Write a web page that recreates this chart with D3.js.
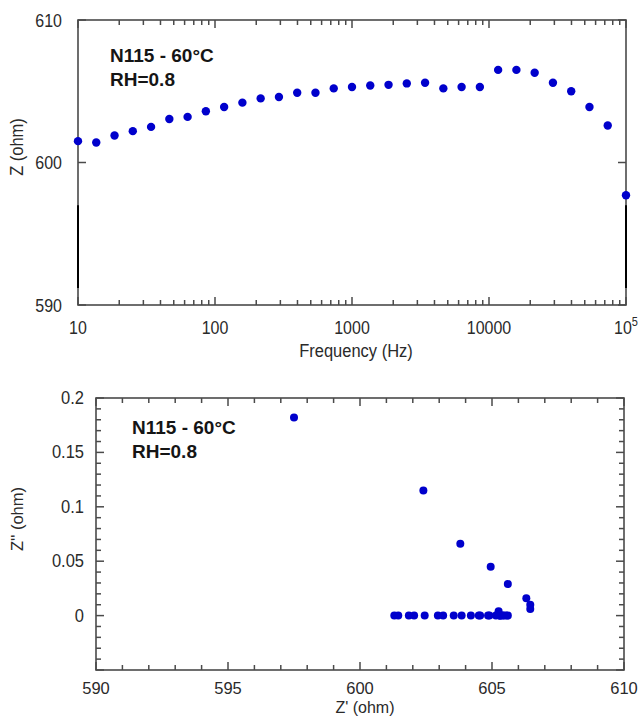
<!DOCTYPE html>
<html><head><meta charset="utf-8">
<script src="https://cdn.jsdelivr.net/npm/d3@7"></script>
<style>body{margin:0;background:#fff}svg{display:block}</style>
</head><body>
<script>
// ---- data ----
const freqHz = [10, 13.59, 18.48, 25.12, 34.15, 46.42, 63.10, 85.77, 116.6, 158.5, 215.4, 292.9, 398.1, 541.2, 735.6, 1000, 1359, 1848, 2512, 3415, 4642, 6310, 8577, 11659, 15849, 21544, 29286, 39811, 54117, 73564, 100000];
const zMag = [601.5, 601.4, 601.9, 602.2, 602.5, 603.05, 603.2, 603.6, 603.9, 604.2, 604.5, 604.6, 604.9, 604.9, 605.2, 605.3, 605.4, 605.45, 605.55, 605.6, 605.2, 605.3, 605.3, 606.5, 606.5, 606.3, 605.6, 605.0, 603.9, 602.6, 597.7];
const zReal = [601.45, 601.3, 601.85, 602.05, 602.45, 602.95, 603.15, 603.55, 603.85, 604.2, 604.5, 604.55, 604.85, 604.9, 605.15, 605.3, 605.4, 605.45, 605.55, 605.6, 605.25, 605.3, 605.3, 606.45, 606.45, 606.3, 605.6, 604.95, 603.8, 602.4, 597.5];
const zImag = [0, 0, 0, 0, 0, 0, 0, 0, 0, 0, 0, 0, 0, 0, 0, 0, 0, 0, 0, 0, 0.004, 0, 0, 0.006, 0.010, 0.016, 0.029, 0.045, 0.066, 0.115, 0.182];
const topYTicks = [590, 600, 610];
const topXLabels = ["10", "100", "1000", "10000", "10^5"];
const botXTicks = [590, 595, 600, 605, 610];
const botYTicks = [0, 0.05, 0.1, 0.15, 0.2];
const annot = ["N115 - 60°C", "RH=0.8"];

const W = 640, H = 716;
const svg = d3.select("body").append("svg").attr("width", W).attr("height", H);
const AX = "#4a4a4a", TXT = "#2a2a2a", DOT = "#0000cc";
const FONT = "Liberation Sans, Arial, sans-serif";

function label(g, x, y, txt, anchor, size, sy) {
  return g.append("text").attr("transform", `translate(${x},${y}) scale(1,${sy})`)
    .attr("text-anchor", anchor).attr("font-family", FONT).attr("font-size", size)
    .attr("fill", TXT).text(txt);
}

// ================= TOP CHART =================
const tp = {l: 78, r: 626, t: 20, b: 305};
const xT = d3.scaleLog().domain([10, 1e5]).range([tp.l, tp.r]);
const yT = d3.scaleLinear().domain([590, 610]).range([tp.b, tp.t]);
const gT = svg.append("g");

const logTicks = xT.ticks();
logTicks.forEach(v => {
  const major = Math.abs(Math.log10(v) - Math.round(Math.log10(v))) < 1e-9;
  const len = major ? 8 : 5;
  const x = xT(v);
  gT.append("line").attr("x1", x).attr("x2", x).attr("y1", tp.b).attr("y2", tp.b - len).attr("stroke", AX).attr("stroke-width", 1.5);
  gT.append("line").attr("x1", x).attr("x2", x).attr("y1", tp.t).attr("y2", tp.t + len).attr("stroke", AX).attr("stroke-width", 1.5);
});
topYTicks.forEach(v => {
  const y = yT(v);
  gT.append("line").attr("x1", tp.l).attr("x2", tp.l + 8).attr("y1", y).attr("y2", y).attr("stroke", AX).attr("stroke-width", 1.5);
  gT.append("line").attr("x1", tp.r).attr("x2", tp.r - 8).attr("y1", y).attr("y2", y).attr("stroke", AX).attr("stroke-width", 1.5);
  label(gT, tp.l - 16, y + 6.5, String(v), "end", 16, 1.18);
});
gT.append("rect").attr("x", tp.l).attr("y", tp.t).attr("width", tp.r - tp.l).attr("height", tp.b - tp.t)
  .attr("fill", "none").attr("stroke", AX).attr("stroke-width", 1.6);
[tp.l, tp.r].forEach(x => {
  gT.append("line").attr("x1", x).attr("x2", x).attr("y1", yT(597)).attr("y2", yT(591.2)).attr("stroke", "#000").attr("stroke-width", 2);
});

const decades = [10, 100, 1000, 10000, 100000];
decades.forEach((v, i) => {
  const t = topXLabels[i];
  if (t.includes("^")) {
    const [b, e] = t.split("^");
    const el = label(gT, xT(v), 334, "", "middle", 16, 1.18);
    el.append("tspan").text(b);
    el.append("tspan").attr("dy", -7).attr("font-size", 11).text(e);
  } else {
    label(gT, xT(v), 334, t, "middle", 16, 1.18);
  }
});
label(gT, (tp.l + tp.r) / 2 + 4, 357, "Frequency (Hz)", "middle", 16.5, 1.12);
gT.append("text").attr("transform", "translate(23,147) rotate(-90) scale(1,1.1)")
  .attr("text-anchor", "middle").attr("font-family", FONT).attr("font-size", 16.5).attr("fill", TXT).text("Z (ohm)");

gT.selectAll("circle.d").data(freqHz).join("circle")
  .attr("cx", d => xT(d)).attr("cy", (d, i) => yT(zMag[i])).attr("r", 4.2).attr("fill", DOT);

annot.forEach((t, i) => {
  gT.append("text").attr("x", 110).attr("y", 62 + i * 24).attr("font-family", FONT).attr("font-weight", "bold")
    .attr("font-size", 19).attr("fill", "#151515").text(t);
});

// ================= BOTTOM CHART =================
const bp = {l: 96, r: 624, t: 398, b: 670};
const xB = d3.scaleLinear().domain([590, 610]).range([bp.l, bp.r]);
const yB = d3.scaleLinear().domain([-0.05, 0.2]).range([bp.b, bp.t]);
const gB = svg.append("g");

d3.range(590, 611, 1).forEach(v => {
  const major = v % 5 === 0;
  const len = major ? 8 : 5;
  const x = xB(v);
  gB.append("line").attr("x1", x).attr("x2", x).attr("y1", bp.b).attr("y2", bp.b - len).attr("stroke", AX).attr("stroke-width", 1.5);
  gB.append("line").attr("x1", x).attr("x2", x).attr("y1", bp.t).attr("y2", bp.t + len).attr("stroke", AX).attr("stroke-width", 1.5);
});
d3.range(-50, 201, 10).forEach(k => {
  const v = k / 1000;
  const major = k % 50 === 0;
  const len = major ? 8 : 5;
  const y = yB(v);
  gB.append("line").attr("x1", bp.l).attr("x2", bp.l + len).attr("y1", y).attr("y2", y).attr("stroke", AX).attr("stroke-width", 1.5);
  gB.append("line").attr("x1", bp.r).attr("x2", bp.r - len).attr("y1", y).attr("y2", y).attr("stroke", AX).attr("stroke-width", 1.5);
});
gB.append("rect").attr("x", bp.l).attr("y", bp.t).attr("width", bp.r - bp.l).attr("height", bp.b - bp.t)
  .attr("fill", "none").attr("stroke", AX).attr("stroke-width", 1.6);

botXTicks.forEach(v => label(gB, xB(v), 694, String(v), "middle", 16.5, 1));
botYTicks.forEach(v => label(gB, bp.l - 12, yB(v) + 6, String(v), "end", 16.5, 1.06));
label(gB, (bp.l + bp.r) / 2 + 5, 713, "Z' (ohm)", "middle", 16, 1);
gB.append("text").attr("transform", "translate(23,519) rotate(-90)")
  .attr("text-anchor", "middle").attr("font-family", FONT).attr("font-size", 16.5).attr("fill", TXT).text("Z'' (ohm)");

gB.selectAll("circle.d").data(zReal).join("circle")
  .attr("cx", d => xB(d)).attr("cy", (d, i) => yB(zImag[i])).attr("r", 4).attr("fill", DOT);

annot.forEach((t, i) => {
  gB.append("text").attr("x", 132).attr("y", 434 + i * 24).attr("font-family", FONT).attr("font-weight", "bold")
    .attr("font-size", 19).attr("fill", "#151515").text(t);
});
</script>
</body></html>
